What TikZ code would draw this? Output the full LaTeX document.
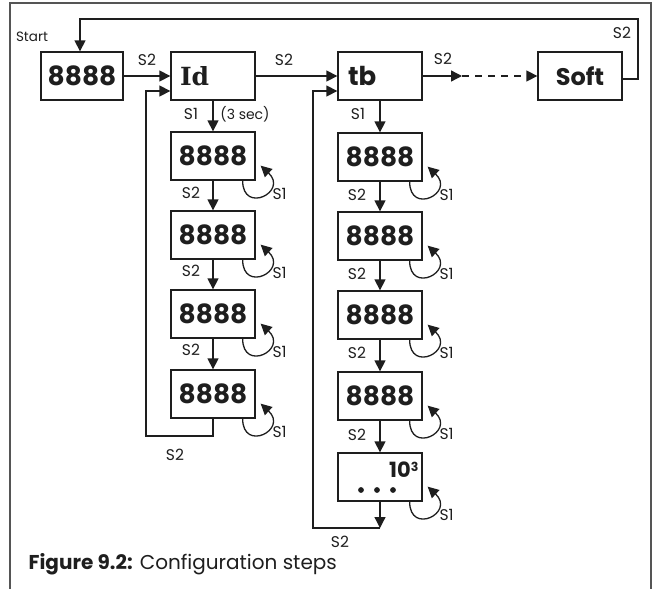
\documentclass[tikz,border=0pt]{standalone}
\usepackage{fontspec}
\setmainfont{Poppins}
\newfontfamily\slabfont{DejaVu Serif}
\usetikzlibrary{arrows.meta}
\definecolor{ink}{HTML}{1E1E1E}
\definecolor{framec}{HTML}{555555}
\newcommand\selfloopat[1]{%
  \draw[tip] ([xshift=-13pt]#1.south east) .. controls +(0,34) and +(28,26) .. ([xshift=5pt,yshift=15pt]#1.south east);}
\begin{document}
\begin{tikzpicture}[x=1pt,y=-1pt,line width=1.3pt,draw=ink,text=ink,
  tip/.style={-{Triangle[length=11pt,width=11pt]}},
  box/.style={draw,minimum width=84pt,minimum height=48pt,inner sep=0pt,
    font=\fontsize{26.5}{26.5}\selectfont\bfseries},
  lbl/.style={font=\fontsize{15.5}{15.5}\selectfont,inner sep=0pt},
]
\useasboundingbox (0,0) rectangle (654,589);
% frame
\draw[framec,line width=1.4pt] (10,589) -- (10,3) -- (651,3) -- (651,589);

% top row
\node[box,minimum width=82pt] (s8) at (82,76) {8888};
\node[box] (id) at (213,76) {};
\node[anchor=west,xshift=9pt,inner sep=0pt,font=\fontsize{25}{25}\selectfont\slabfont\bfseries] (idt) at (id.west) {Id};
\node[box] (tb) at (380,76) {};
\node[anchor=west,xshift=10pt,inner sep=0pt,font=\fontsize{26}{26}\selectfont\bfseries] (tbt) at (tb.west) {tb};
\node[box,font=\fontsize{24}{24}\selectfont\bfseries] (soft) at (580,76) {Soft};
\node[lbl,font=\fontsize{13.5}{13.5}\selectfont] (start) at (32,37) {Start};

% Id column
\node[box] (i1) at (213,156) {8888};
\node[box] (i2) at (213,235) {8888};
\node[box] (i3) at (213,314) {8888};
\node[box] (i4) at (213,394) {8888};

% tb column
\node[box] (t1) at (380,157) {8888};
\node[box] (t2) at (380,236) {8888};
\node[box] (t3) at (380,315) {8888};
\node[box] (t4) at (380,396) {8888};
\node[box] (t5) at (380,477) {};
\node[anchor=east,inner sep=0pt,font=\fontsize{21}{21}\selectfont\bfseries] (pow) at (419,470) {10\raisebox{6.5pt}{\fontsize{12.5}{12.5}\selectfont 3}};
\fill[ink] (361,490) circle (2.9) (377,490) circle (2.9) (393,490) circle (2.9);

% top connectors
\draw[tip] (s8.east) -- (id.west);
\node[lbl] (l1) at (147,60) {S2};
\draw[tip] (id.east) -- (tb.west);
\node[lbl] (l2) at (284,60) {S2};
\coordinate (mid) at (462,76);
\draw[tip] (tb.east) -- (mid);
\draw[tip,dash pattern=on 7pt off 6pt] (mid) -- (soft.west);
\node[lbl] (l3) at (443,59) {S2};
\coordinate (sa) at (638,79);
\coordinate (sb) at (638,19);
\coordinate (sc) at (80,19);
\draw[tip] ([yshift=-3pt]soft.east) -- (sa) -- (sb) -- (sc) -- (sc |- s8.north);
\node[lbl] (l4) at (622,33) {S2};

% Id column connectors
\draw[tip] (id.south) -- (i1.north);
\node[lbl] (l5) at (191,114) {S1};
\node[lbl,font=\fontsize{14}{14}\selectfont] (l6) at (245,114) {(3 sec)};
\draw[tip] (i1.south) -- (i2.north);
\draw[tip] (i2.south) -- (i3.north);
\draw[tip] (i3.south) -- (i4.north);
\node[lbl] at (191,193) {S2};
\node[lbl] at (191,271) {S2};
\node[lbl] at (191,350) {S2};
\coordinate (ia) at (213,436);
\coordinate (ib) at (146,436);
\draw[tip] (i4.south) -- (ia) -- (ib) |- ([yshift=-15pt]id.west);
\node[lbl] (l7) at (175,455) {S2};

% tb column connectors
\draw[tip] (tb.south) -- (t1.north);
\node[lbl] (l8) at (358,114) {S1};
\draw[tip] (t1.south) -- (t2.north);
\draw[tip] (t2.south) -- (t3.north);
\draw[tip] (t3.south) -- (t4.north);
\draw[tip] (t4.south) -- (t5.north);
\node[lbl] at (357,195) {S2};
\node[lbl] at (357,274) {S2};
\node[lbl] at (357,353) {S2};
\node[lbl] at (357,435) {S2};
\coordinate (ta) at (380,528);
\coordinate (tc) at (313,528);
\draw[tip] (t5.south) -- (ta);
\draw[tip] (ta) -- (tc) |- ([yshift=-15pt]tb.west);
\node[lbl] (l9) at (340,542) {S2};

% self loops
\foreach \n in {i1,i2,i3,i4,t1,t2,t3,t4,t5}{
  \selfloopat{\n}
  \node[lbl] at ([xshift=24pt,yshift=-13pt]\n.south east) {S1};
}

% caption
\node[anchor=base west,inner sep=0pt,font=\fontsize{20}{20}\selectfont] (cap) at (28,569) {{\bfseries Figure 9.2:} Configuration steps};
\end{tikzpicture}
\end{document}
